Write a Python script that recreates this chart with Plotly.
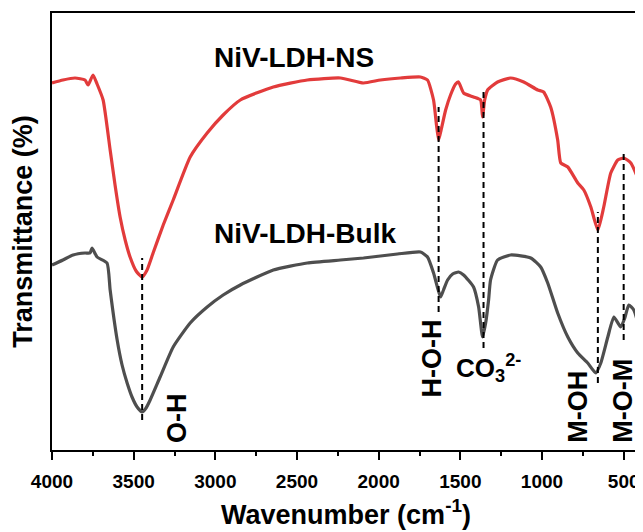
import plotly.graph_objects as go

# NiV-LDH-NS (red) spectrum: wavenumber (cm-1), transmittance (a.u.)
ns_wavenumber = [4000, 3933, 3859, 3798, 3779, 3749, 3724, 3687, 3644, 3614, 3583, 3552, 3522, 3485,
                 3448, 3418, 3381, 3319, 3258, 3154, 3050, 2952, 2847, 2645, 2437, 2234, 2093, 1989,
                 1866, 1744, 1701, 1664, 1646, 1633, 1615, 1590, 1560, 1529, 1511, 1480, 1419, 1376,
                 1364, 1351, 1333, 1272, 1192, 1112, 1026, 990, 947, 904, 885, 842, 781, 744, 701,
                 658, 622, 579, 536, 499, 456, 401]
ns_transmittance = [367, 370, 372, 370, 365, 375, 366, 350, 300, 265, 233, 210, 193, 179,
                    173, 180, 197, 225, 250, 293, 317, 335, 350, 363, 370, 372, 367, 370,
                    372, 373, 370, 350, 325, 310, 322, 340, 355, 366, 368, 357, 353, 350,
                    333, 350, 360, 368, 372, 368, 360, 358, 343, 310, 287, 283, 267, 260, 243,
                    220, 243, 277, 290, 292, 287, 267]

# NiV-LDH-Bulk (gray) spectrum
bulk_wavenumber = [4000, 3933, 3871, 3798, 3767, 3755, 3724, 3663, 3644, 3601, 3571, 3540, 3510, 3479,
                   3448, 3424, 3399, 3338, 3258, 3154, 3050, 2952, 2847, 2645, 2437, 2234, 2093, 1885,
                   1744, 1701, 1664, 1639, 1621, 1603, 1578, 1547, 1511, 1480, 1419, 1388, 1364, 1345,
                   1327, 1315, 1272, 1192, 1069, 1008, 965, 904, 842, 781, 720, 671, 640, 597, 560,
                   518, 493, 469, 438, 401]
bulk_transmittance = [185, 190, 195, 197, 197, 202, 193, 187, 160, 110, 85, 67, 53, 43,
                      38, 42, 50, 73, 103, 127, 143, 155, 165, 180, 187, 190, 192, 196,
                      198, 193, 177, 162, 153, 160, 170, 176, 178, 175, 163, 143, 113, 127,
                      150, 170, 190, 195, 192, 183, 167, 137, 113, 97, 87, 77, 87, 113, 133,
                      123, 132, 145, 140, 120]

# Band assignments: position, label, dashed line extent (low, high)
band_positions = [3448, 1633, 1358, 658, 500]
band_labels = ["O-H", "H-O-H", "CO<sub>3</sub><sup>2-</sup>", "M-OH", "M-O-M"]
band_line_low = [30, 138, 102, 67, 110]
band_line_high = [192, 343, 361, 238, 298]

series_names = ["NiV-LDH-NS", "NiV-LDH-Bulk"]
x_ticks = [4000, 3500, 3000, 2500, 2000, 1500, 1000, 500]

FONT = "Liberation Sans, Arial, sans-serif"

fig = go.Figure()
fig.add_trace(go.Scatter(x=ns_wavenumber, y=ns_transmittance, mode="lines",
                         line=dict(color="#E23B3B", width=3.2, shape="spline", smoothing=0.5),
                         name=series_names[0]))
fig.add_trace(go.Scatter(x=bulk_wavenumber, y=bulk_transmittance, mode="lines",
                         line=dict(color="#4E4E4E", width=3.2, shape="spline", smoothing=0.5),
                         name=series_names[1]))

for xb, lo, hi in zip(band_positions, band_line_low, band_line_high):
    fig.add_shape(type="line", xref="x", yref="y", x0=xb, x1=xb, y0=lo, y1=hi,
                  line=dict(color="black", width=2, dash="6px,4px"))

# series labels
fig.add_annotation(x=3020, y=393, xref="x", yref="y", text="<b>" + series_names[0] + "</b>",
                   showarrow=False, xanchor="left", yanchor="middle",
                   font=dict(family=FONT, size=28, color="black"))
fig.add_annotation(x=3020, y=217, xref="x", yref="y", text="<b>" + series_names[1] + "</b>",
                   showarrow=False, xanchor="left", yanchor="middle",
                   font=dict(family=FONT, size=28, color="black"))

# band labels (rotated)
rot_x = [3234, 1676, None, 781, 505]
rot_y_bottom = [5, 50, None, 5, 5]
for lab, xx, yb in zip(band_labels, rot_x, rot_y_bottom):
    if xx is None:
        continue
    fig.add_annotation(x=xx, y=yb, xref="x", yref="y", text="<b>" + lab + "</b>",
                       textangle=-90, showarrow=False, xanchor="center", yanchor="bottom",
                       font=dict(family=FONT, size=27, color="black"))
fig.add_annotation(x=1541, y=82, xref="x", yref="y", text="<b>" + band_labels[2] + "</b>",
                   showarrow=False, xanchor="left", yanchor="middle",
                   font=dict(family=FONT, size=26, color="black"))

# The page body adds an 8px offset; size the figure so the plot lands where the reference has it.
fig.update_layout(
    width=635, height=524,
    margin=dict(l=44, r=3, t=5, b=82, autoexpand=False),
    paper_bgcolor="white", plot_bgcolor="white",
    showlegend=False,
    font=dict(family=FONT, color="black"),
)
fig.update_xaxes(
    range=[4000, 400], tickvals=x_ticks, ticktext=[str(v) for v in x_ticks],
    ticks="outside", ticklen=8, tickwidth=2, tickcolor="black",
    minor=dict(ticks="outside", ticklen=4, tickwidth=2, tickcolor="black", dtick=250, tick0=0),
    showline=True, linecolor="black", linewidth=2, mirror=True, showgrid=False, zeroline=False,
    tickfont=dict(family=FONT, size=19, color="black", weight="bold"),
    ticklabelstandoff=5,
    automargin=False,
    title=dict(text="<b>Wavenumber (cm<sup>-1</sup>)</b>", font=dict(family=FONT, size=27, color="black"), standoff=14),
)
fig.update_yaxes(
    range=[0, 437], showticklabels=False, ticks="",
    showline=True, linecolor="black", linewidth=2, mirror=True, showgrid=False, zeroline=False,
    automargin=False,
    title=dict(text="<b>Transmittance (%)</b>", font=dict(family=FONT, size=27, color="black"), standoff=10),
)

fig.write_html("out.html")
